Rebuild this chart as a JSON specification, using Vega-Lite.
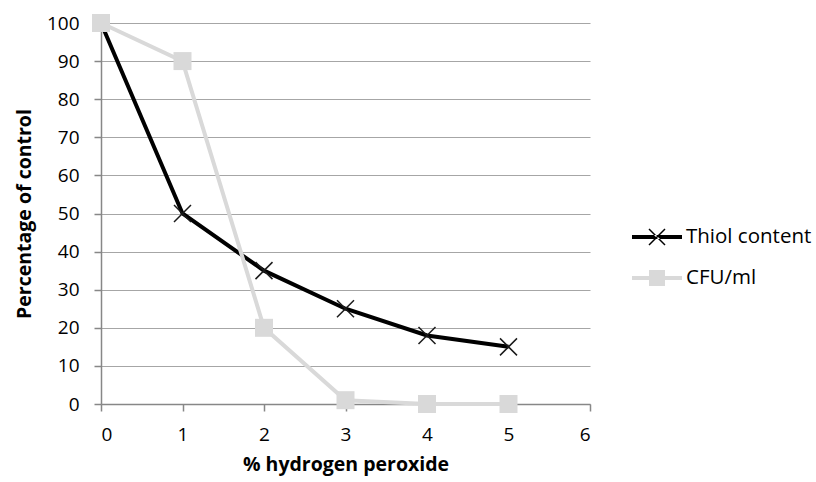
{
  "$schema": "https://vega.github.io/schema/vega-lite/v6.json",
  "width": 489,
  "height": 381,
  "autosize": {"type": "none"},
  "padding": {"left": 101, "top": 23, "right": 226, "bottom": 78},
  "background": "white",
  "config": {
    "font": "Open Sans",
    "view": {"stroke": null},
    "axis": {
      "labelFont": "Open Sans",
      "labelFontSize": 19,
      "labelColor": "#000000",
      "titleFont": "Open Sans",
      "titleFontSize": 19.5,
      "titleFontWeight": "bold",
      "titleColor": "#000000",
      "domainColor": "#878787",
      "tickColor": "#878787",
      "gridColor": "#a6a6a6",
      "domainWidth": 1.5,
      "tickWidth": 1.5,
      "gridWidth": 1.2,
      "tickSize": 7
    }
  },
  "data": {
    "values": [
      {"series": "Thiol content", "pct": 0, "value": 100},
      {"series": "Thiol content", "pct": 1, "value": 50},
      {"series": "Thiol content", "pct": 2, "value": 35},
      {"series": "Thiol content", "pct": 3, "value": 25},
      {"series": "Thiol content", "pct": 4, "value": 18},
      {"series": "Thiol content", "pct": 5, "value": 15},
      {"series": "CFU/ml", "pct": 0, "value": 100},
      {"series": "CFU/ml", "pct": 1, "value": 90},
      {"series": "CFU/ml", "pct": 2, "value": 20},
      {"series": "CFU/ml", "pct": 3, "value": 1},
      {"series": "CFU/ml", "pct": 4, "value": 0},
      {"series": "CFU/ml", "pct": 5, "value": 0}
    ]
  },
  "encoding": {
    "x": {
      "field": "pct",
      "type": "quantitative",
      "scale": {"domain": [0, 6], "nice": false, "zero": false},
      "axis": {
        "title": "% hydrogen peroxide",
        "values": [0, 1, 2, 3, 4, 5, 6],
        "format": "d",
        "grid": false,
        "labelPadding": 14,
        "titlePadding": 11
      }
    },
    "y": {
      "field": "value",
      "type": "quantitative",
      "scale": {"domain": [0, 100], "nice": false},
      "axis": {
        "title": "Percentage of control",
        "values": [0, 10, 20, 30, 40, 50, 60, 70, 80, 90, 100],
        "grid": true,
        "labelPadding": 15,
        "titlePadding": 12
      }
    }
  },
  "layer": [
    {
      "transform": [{"filter": "datum.series === 'Thiol content'"}],
      "mark": {"type": "line", "color": "#000000", "strokeWidth": 4}
    },
    {
      "transform": [{"filter": "datum.series === 'Thiol content'"}],
      "mark": {"type": "point", "shape": "M-1,-1L1,1M-1,1L1,-1", "size": 289, "filled": false, "color": "#1a1a1a", "strokeWidth": 1.5, "opacity": 1}
    },
    {
      "transform": [{"filter": "datum.series === 'CFU/ml'"}],
      "mark": {"type": "line", "color": "#d9d9d9", "strokeWidth": 4}
    },
    {
      "transform": [{"filter": "datum.series === 'CFU/ml'"}],
      "mark": {"type": "point", "shape": "square", "size": 324, "filled": true, "color": "#d9d9d9", "opacity": 1}
    },
    {
      "mark": {"type": "point", "filled": true, "opacity": 0, "size": 2500},
      "encoding": {
        "color": {
          "field": "series",
          "type": "nominal",
          "scale": {"domain": ["Thiol content", "CFU/ml"], "range": ["#000000", "#d9d9d9"]},
          "legend": {"title": null, "orient": "none", "legendX": 531, "legendY": 189, "symbolSize": 2500, "symbolOpacity": 1, "symbolStrokeWidth": 0, "labelFontSize": 20.5, "labelFont": "Open Sans", "labelColor": "#000000", "rowPadding": 5, "labelOffset": 4, "padding": 0}
        },
        "shape": {
          "field": "series",
          "type": "nominal",
          "scale": {
            "domain": ["Thiol content", "CFU/ml"],
            "range": [
              "M-1,-0.08H1V0.08H-1Z M-0.341,-0.299L0.299,0.341L0.341,0.299L-0.299,-0.341Z M-0.341,0.299L0.299,-0.341L0.341,-0.299L-0.299,0.341Z",
              "M-1,-0.08H1V0.08H-1Z M-0.32,-0.32H0.32V0.32H-0.32Z"
            ]
          },
          "legend": {"title": null, "orient": "none", "legendX": 531, "legendY": 189, "symbolSize": 2500, "symbolOpacity": 1, "symbolStrokeWidth": 0, "labelFontSize": 20.5, "labelFont": "Open Sans", "labelColor": "#000000", "rowPadding": 5, "labelOffset": 4, "padding": 0}
        }
      }
    }
  ]
}
